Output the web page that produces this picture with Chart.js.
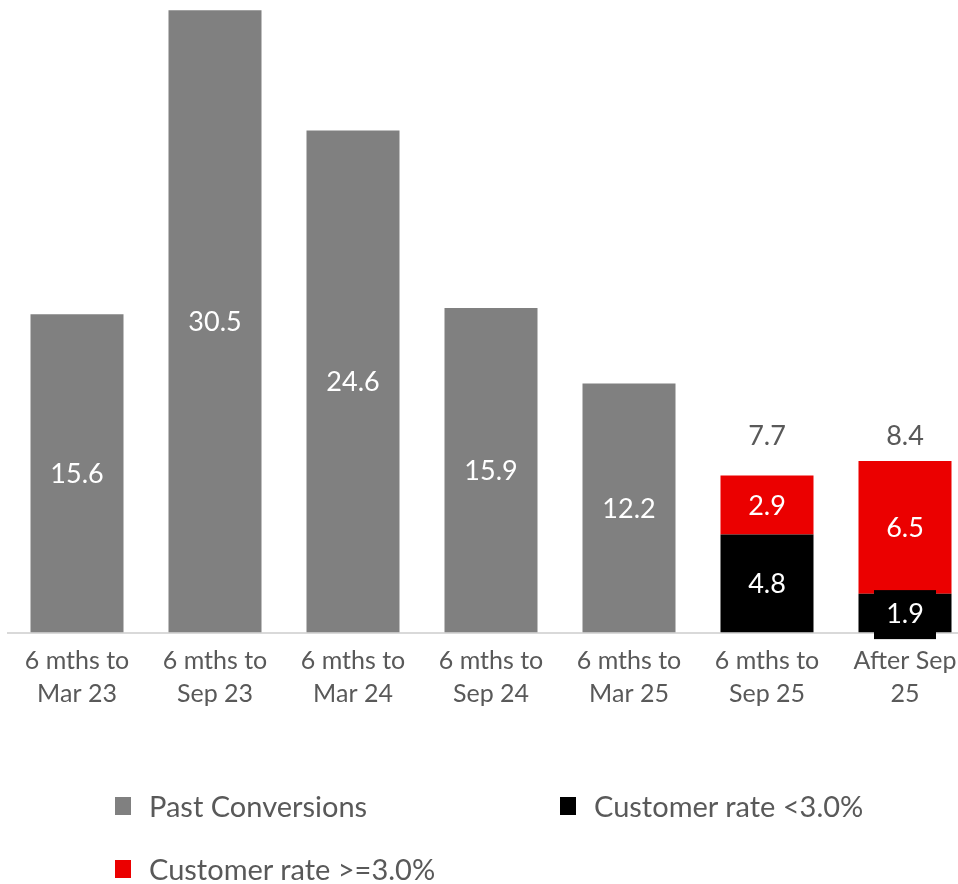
<!DOCTYPE html>
<html>
<head>
<meta charset="utf-8">
<script src="https://cdn.jsdelivr.net/npm/chart.js@4"></script>
<style>
  html, body { margin: 0; padding: 0; background: #fff; overflow: hidden; }
  #wrap { position: relative; width: 982px; height: 723px; }
  #legend { position: absolute; left: 0; top: 0; width: 958px; height: 884px; pointer-events: none; font-family: Lato, sans-serif; font-size: 29px; color: #595959; }
  .item { position: absolute; display: flex; align-items: center; }
  .box { width: 16px; height: 18px; margin-right: 18px; }
</style>
</head>
<body>
<div id="wrap"><canvas id="myChart"></canvas></div>
<div id="legend"></div>
<script>
const labels = [['6 mths to', 'Mar 23'], ['6 mths to', 'Sep 23'], ['6 mths to', 'Mar 24'], ['6 mths to', 'Sep 24'], ['6 mths to', 'Mar 25'], ['6 mths to', 'Sep 25'], ['After Sep', '25']];
const pastConversions = [15.6, 30.5, 24.6, 15.9, 12.2, null, null];
const rateBelow3 = [null, null, null, null, null, 4.8, 1.9];
const rateAbove3 = [null, null, null, null, null, 2.9, 6.5];
const totals = [null, null, null, null, null, 7.7, 8.4];

const grey = '#808080', black = '#000000', red = '#EB0000';

// labels inside bars + totals above the split bars
const barLabels = {
  id: 'barLabels',
  afterDatasetsDraw(chart) {
    const c = chart.ctx;
    c.save();
    c.font = '27px Lato, sans-serif';
    c.textAlign = 'center';
    c.textBaseline = 'middle';
    chart.data.datasets.forEach((ds, i) => {
      chart.getDatasetMeta(i).data.forEach((bar, j) => {
        const v = ds.data[j];
        if (v == null) return;
        const y = (bar.y + bar.base) / 2;
        const txt = v.toFixed(1);
        if (ds.boxLabel && (bar.base - bar.y) < 45) {
          c.fillStyle = black;
          c.fillRect(bar.x - 31, y - 23, 62, 49);
        }
        c.fillStyle = '#fff';
        c.fillText(txt, bar.x, y + 1);
      });
    });
    const ys = chart.scales.y;
    const meta = chart.getDatasetMeta(0);
    c.fillStyle = '#595959';
    totals.forEach((t, j) => {
      if (t == null) return;
      c.fillText(t.toFixed(1), meta.data[j].x, ys.getPixelForValue(9.6));
    });
    c.restore();
  }
};

const ctx = document.getElementById('myChart');
const chart = new Chart(ctx, {
  type: 'bar',
  data: {
    labels: labels,
    datasets: [
      { label: 'Customer rate <3.0%', data: rateBelow3, backgroundColor: black, boxLabel: true },
      { label: 'Customer rate >=3.0%', data: rateAbove3, backgroundColor: red },
      { label: 'Past Conversions', data: pastConversions, backgroundColor: grey }
    ]
  },
  options: {
    responsive: true,
    maintainAspectRatio: false,
    animation: false,
    layout: { padding: { left: 8, right: 8, top: 0, bottom: 0 } },
    datasets: { bar: { categoryPercentage: 1, barPercentage: 0.674, skipNull: false } },
    plugins: { legend: { display: false }, tooltip: { enabled: false } },
    scales: {
      x: {
        stacked: true,
        grid: { display: false, drawTicks: false },
        border: { display: true, color: '#d9d9d9', width: 2 },
        ticks: { color: '#595959', font: { family: 'Lato, sans-serif', size: 25, lineHeight: 1.33 }, padding: 12, maxRotation: 0, autoSkip: false }
      },
      y: {
        stacked: true,
        display: false,
        min: 0,
        max: 31
      }
    }
  },
  plugins: [barLabels]
});

// legend in two columns like the original
const legendItems = [
  { label: 'Past Conversions', color: grey, x: 115, y: 808 },
  { label: 'Customer rate <3.0%', color: black, x: 560, y: 808 },
  { label: 'Customer rate >=3.0%', color: red, x: 115, y: 871 }
];
const lg = document.getElementById('legend');
legendItems.forEach(it => {
  const d = document.createElement('div');
  d.className = 'item';
  d.style.left = it.x + 'px';
  d.style.top = (it.y - 20) + 'px';
  d.innerHTML = '<span class="box" style="background:' + it.color + '"></span><span>' + it.label + '</span>';
  lg.appendChild(d);
});
</script>
</body>
</html>
